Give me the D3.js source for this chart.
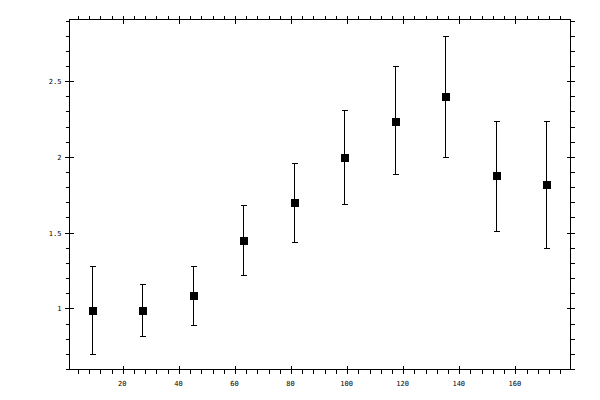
<!DOCTYPE html>
<html>
<head>
<meta charset="utf-8">
<script src="https://cdn.jsdelivr.net/npm/d3@7"></script>
<style>
  body { margin: 0; background: #fff; }
  svg text { font-family: "DejaVu Sans Mono", monospace; font-size: 7px; fill: #000; }
</style>
</head>
<body>
<div id="chart"></div>
<script>
// data
const xValues = [9, 27, 45, 63, 81, 99, 117, 135, 153, 171];
const yValues = [0.99, 0.99, 1.09, 1.45, 1.70, 2.00, 2.24, 2.40, 1.88, 1.82];
const yHigh = [1.28, 1.16, 1.28, 1.68, 1.96, 2.31, 2.60, 2.80, 2.24, 2.24];
const yLow = [0.70, 0.82, 0.89, 1.22, 1.44, 1.69, 1.89, 2.00, 1.51, 1.40];

const xMajor = [20, 40, 60, 80, 100, 120, 140, 160];
const xMinor = d3.range(4, 180, 4).filter(d => d % 20 !== 0);
const yMajor = [1, 1.5, 2, 2.5];
const yMinor = d3.range(6, 30, 1).map(d => d / 10).filter(d => Math.round(d * 10) % 5 !== 0);

const width = 600, height = 400;
const plotLeft = 69.5, plotRight = 570.5, plotTop = 19.5, plotBottom = 369.5;

const svg = d3.select("#chart").append("svg")
  .attr("width", width)
  .attr("height", height);

const x = d3.scaleLinear().domain([0.8, 179.5]).range([plotLeft, plotRight]);
const y = d3.scaleLinear().domain([0.6, 2.91]).range([plotBottom, plotTop]);

const px = v => Math.round(x(v) - 0.5) + 0.5;
const py = v => Math.round(y(v) - 0.5) + 0.5;

const g = svg.append("g")
  .attr("stroke", "#000")
  .attr("stroke-width", 1)
  .attr("shape-rendering", "crispEdges");

// frame
g.append("rect")
  .attr("x", plotLeft).attr("y", plotTop)
  .attr("width", plotRight - plotLeft).attr("height", plotBottom - plotTop)
  .attr("fill", "none");

// x ticks, bottom and top (minor outward, major across)
xMinor.forEach(d => {
  g.append("line").attr("x1", px(d)).attr("x2", px(d)).attr("y1", plotBottom).attr("y2", plotBottom + 4);
  g.append("line").attr("x1", px(d)).attr("x2", px(d)).attr("y1", plotTop).attr("y2", plotTop - 4);
});
xMajor.forEach(d => {
  g.append("line").attr("x1", px(d)).attr("x2", px(d)).attr("y1", plotBottom - 4).attr("y2", plotBottom + 4);
  g.append("line").attr("x1", px(d)).attr("x2", px(d)).attr("y1", plotTop - 4).attr("y2", plotTop + 4);
});

// y ticks, left and right
yMinor.forEach(d => {
  g.append("line").attr("y1", py(d)).attr("y2", py(d)).attr("x1", plotLeft).attr("x2", plotLeft - 4);
  g.append("line").attr("y1", py(d)).attr("y2", py(d)).attr("x1", plotRight).attr("x2", plotRight + 4);
});
yMajor.forEach(d => {
  g.append("line").attr("y1", py(d)).attr("y2", py(d)).attr("x1", plotLeft - 5).attr("x2", plotLeft + 4);
  g.append("line").attr("y1", py(d)).attr("y2", py(d)).attr("x1", plotRight - 4).attr("x2", plotRight + 4);
});

// tick labels
svg.selectAll(".xlab").data(xMajor).join("text")
  .attr("class", "xlab")
  .attr("x", d => x(d) - 1)
  .attr("y", 386)
  .attr("text-anchor", "middle")
  .text(d => d);

svg.selectAll(".ylab").data(yMajor).join("text")
  .attr("class", "ylab")
  .attr("x", 61.5)
  .attr("y", d => y(d) + 2.5)
  .attr("text-anchor", "end")
  .text(d => d);

// error bars
const pts = xValues.map((d, i) => ({ x: d, y: yValues[i], hi: yHigh[i], lo: yLow[i] }));

const bars = svg.append("g")
  .attr("stroke", "#000")
  .attr("stroke-width", 1)
  .attr("shape-rendering", "crispEdges");

pts.forEach(p => {
  bars.append("line").attr("x1", px(p.x)).attr("x2", px(p.x)).attr("y1", py(p.hi)).attr("y2", py(p.lo));
  bars.append("line").attr("x1", px(p.x) - 3).attr("x2", px(p.x) + 3).attr("y1", py(p.hi)).attr("y2", py(p.hi));
  bars.append("line").attr("x1", px(p.x) - 3).attr("x2", px(p.x) + 3).attr("y1", py(p.lo)).attr("y2", py(p.lo));
});

// square markers
svg.selectAll(".pt").data(pts).join("rect")
  .attr("class", "pt")
  .attr("x", d => px(d.x) - 4)
  .attr("y", d => py(d.y) - 4)
  .attr("width", 8)
  .attr("height", 8)
  .attr("fill", "#000")
  .attr("shape-rendering", "crispEdges");
</script>
</body>
</html>
